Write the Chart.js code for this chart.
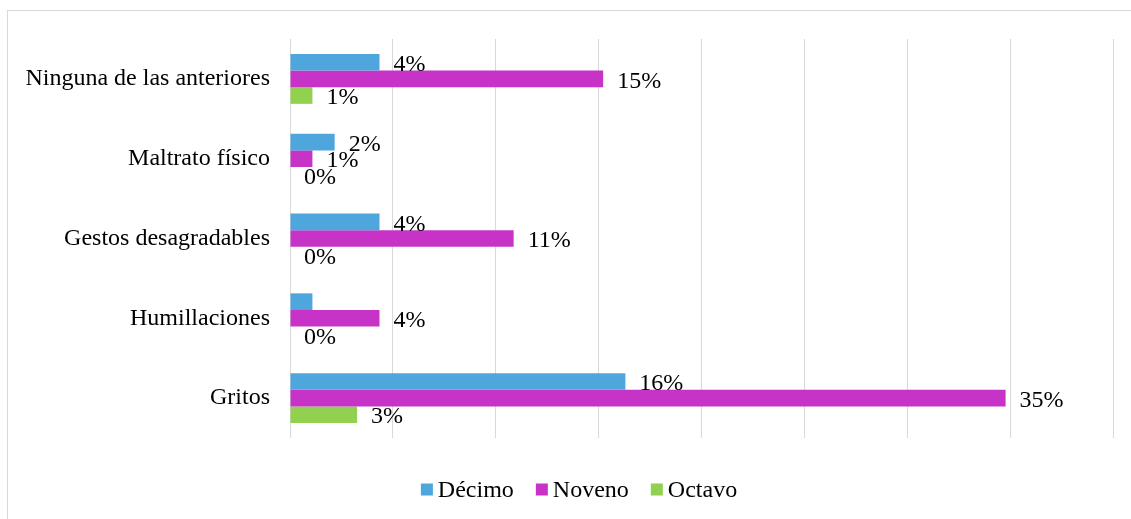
<!DOCTYPE html>
<html>
<head>
<meta charset="utf-8">
<script src="https://cdn.jsdelivr.net/npm/chart.js@4.4.1/dist/chart.umd.min.js"></script>
<style>
  html, body { margin: 0; padding: 0; background: #ffffff; overflow: hidden; }
  #wrap { position: relative; width: 1131px; height: 519px; overflow: hidden; }
  #frame { position: absolute; left: 7px; top: 10px; width: 1300px; height: 700px; border: 1px solid #D9D9D9; box-sizing: border-box; }
  #c { position: absolute; left: 0; top: 0; }
</style>
</head>
<body>
<div id="wrap">
  <div id="frame"></div>
  <canvas id="c" width="1131" height="519"></canvas>
</div>
<script>
const categories = ["Ninguna de las anteriores", "Maltrato físico", "Gestos desagradables", "Humillaciones", "Gritos"];
const seriesNames = ["Décimo", "Noveno", "Octavo"];
const decimo = [4.35, 2.17, 4.35, 1.09, 16.30];
const noveno = [15.22, 1.09, 10.87, 4.35, 34.78];
const octavo = [1.09, 0, 0, 0, 3.26];
const decimoLabels = ["4%", "2%", "4%", "", "16%"];
const novenoLabels = ["15%", "1%", "11%", "4%", "35%"];
const octavoLabels = ["1%", "0%", "0%", "0%", "3%"];
const xTicks = [0, 5, 10, 15, 20, 25, 30, 35, 40];
const colors = ["#4EA6DC", "#C733C7", "#92D050"];

const FONT = "'Liberation Serif', 'Times New Roman', serif";

const labelPlugin = {
  id: 'barLabels',
  afterDatasetsDraw(chart) {
    const ctx = chart.ctx;
    ctx.save();
    ctx.font = "24px " + FONT;
    ctx.fillStyle = "#000000";
    ctx.textBaseline = "alphabetic";
    ctx.textAlign = "left";
    chart.data.datasets.forEach((ds, i) => {
      const meta = chart.getDatasetMeta(i);
      meta.data.forEach((el, j) => {
        const t = ds.barLabels[j];
        if (t) ctx.fillText(t, el.x + 14, el.y + 8.7);
      });
    });
    ctx.restore();
  }
};

const legendPlugin = {
  id: 'customLegend',
  afterDraw(chart) {
    const ctx = chart.ctx;
    ctx.save();
    ctx.font = "24px " + FONT;
    const box = 12, gapBoxText = 5, gapItems = 22;
    const items = chart.data.datasets.map(ds => ({ text: ds.label, color: ds.backgroundColor, w: ctx.measureText(ds.label).width }));
    let total = 0;
    items.forEach((it, i) => { total += box + gapBoxText + it.w + (i < items.length - 1 ? gapItems : 0); });
    let x = 579 - total / 2;
    const baseline = 496.5;
    items.forEach(it => {
      ctx.fillStyle = it.color;
      ctx.fillRect(x, 483.5, box, box);
      x += box + gapBoxText;
      ctx.fillStyle = "#000000";
      ctx.textBaseline = "alphabetic";
      ctx.textAlign = "left";
      ctx.fillText(it.text, x, baseline);
      x += it.w + gapItems;
    });
    ctx.restore();
  }
};

new Chart(document.getElementById('c'), {
  type: 'bar',
  data: {
    labels: categories,
    datasets: [
      { label: seriesNames[0], data: decimo, backgroundColor: colors[0], barLabels: decimoLabels },
      { label: seriesNames[1], data: noveno, backgroundColor: colors[1], barLabels: novenoLabels },
      { label: seriesNames[2], data: octavo, backgroundColor: colors[2], barLabels: octavoLabels }
    ]
  },
  options: {
    indexAxis: 'y',
    responsive: false,
    animation: false,
    devicePixelRatio: 1,
    datasets: { bar: { categoryPercentage: 0.625, barPercentage: 1.0, borderWidth: 0 } },
    layout: { padding: { left: 0, right: 18, top: 39, bottom: 81 } },
    scales: {
      x: {
        min: 0, max: 40,
        afterBuildTicks(scale) { scale.ticks = xTicks.map(v => ({ value: v })); },
        ticks: { display: false },
        grid: { display: true, color: '#D9D9D9', lineWidth: 1, drawTicks: false },
        border: { display: false },
        afterFit(scale) { scale.height = 0; }
      },
      y: {
        ticks: { color: '#000000', font: { family: FONT, size: 24 }, padding: 20 },
        grid: { display: false, drawTicks: false },
        border: { display: false },
        afterFit(scale) { scale.width = 290; }
      }
    },
    plugins: {
      legend: { display: false },
      tooltip: { enabled: false }
    }
  },
  plugins: [labelPlugin, legendPlugin]
});
</script>
</body>
</html>
